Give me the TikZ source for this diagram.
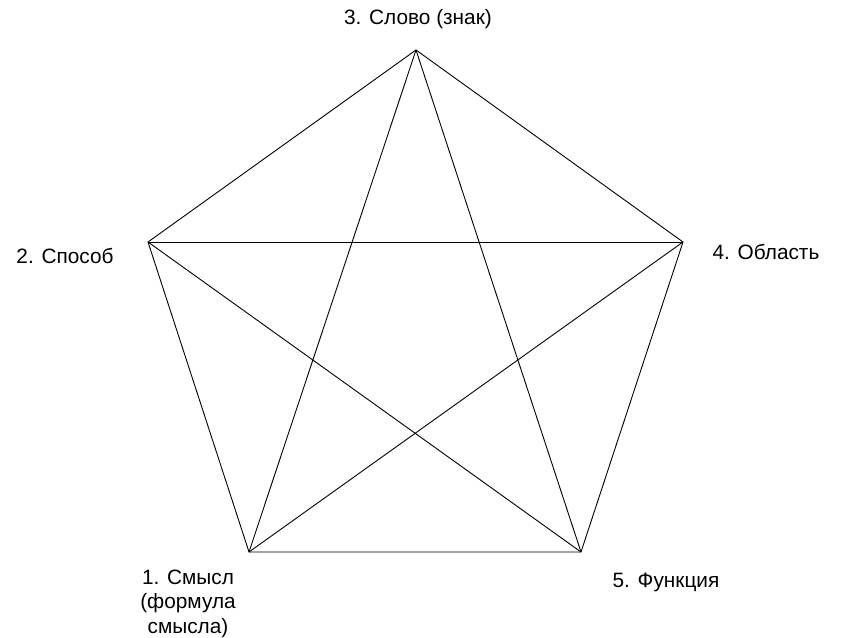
\documentclass[tikz,border=0pt]{standalone}
\usepackage{fontspec}
\setmainfont{Liberation Sans}
\begin{document}
\begin{tikzpicture}[x=1pt,y=-1pt,
  edge/.style={draw=black,line width=0.9pt},
  lbl/.style={font=\fontsize{20.8}{24.5}\selectfont,inner sep=0pt,anchor=base,align=center}]
\useasboundingbox (0,0) rectangle (843,637);
\coordinate (v3) at (416,50);
\coordinate (v2) at (148,242);
\coordinate (v4) at (683,242);
\coordinate (v1) at (249,552);
\coordinate (v5) at (581,552);
\draw[edge] (v3) -- (v2) -- (v1) -- (v5) -- (v4) -- cycle;
\draw[edge] (v3) -- (v1);
\draw[edge] (v3) -- (v5);
\draw[edge] (v2) -- (v4);
\draw[edge] (v2) -- (v5);
\draw[edge] (v4) -- (v1);
\node[lbl] (l3) at (418,24) {3. Слово (знак)};
\node[lbl] (l2) at (65,263) {2. Способ};
\node[lbl] (l4) at (766,259) {4. Область};
\node[lbl] (l1) at (188,633) {1. Смысл\\(формула\\смысла)};
\node[lbl] (l5) at (666,587) {5. Функция};
\end{tikzpicture}
\end{document}
